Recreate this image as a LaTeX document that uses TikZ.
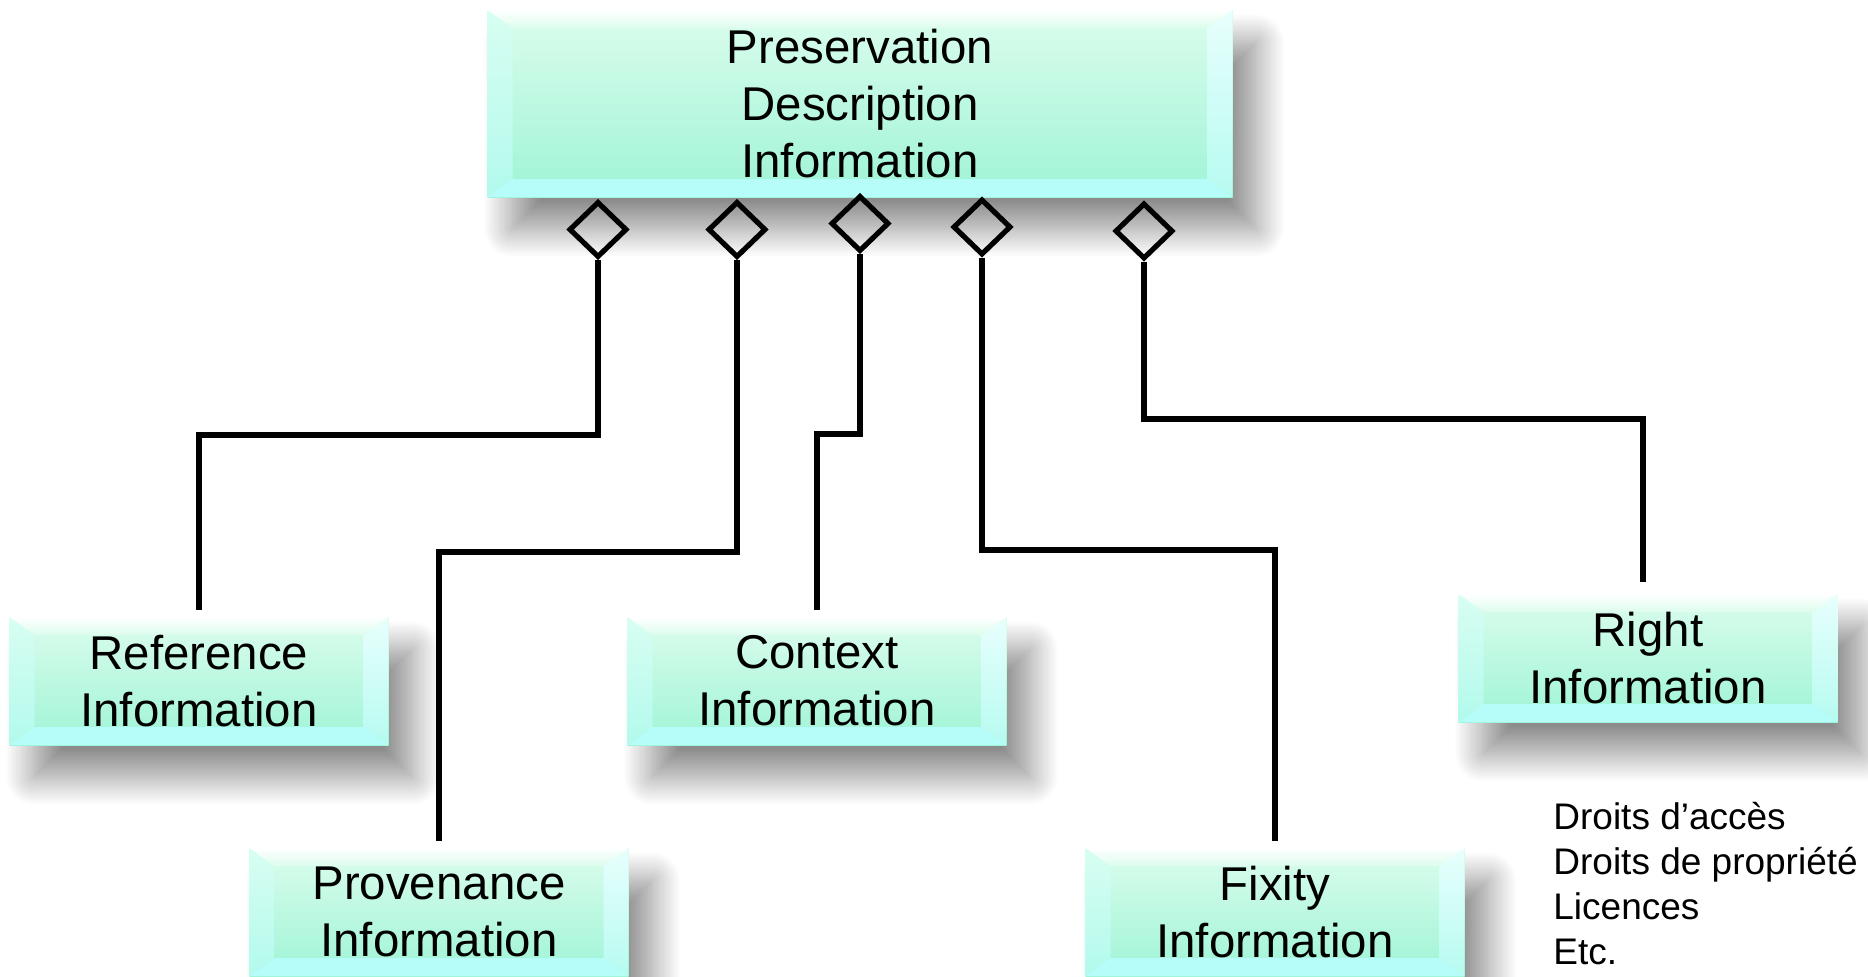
\documentclass[tikz,border=0pt]{standalone}
\usepackage{fontspec}
\setmainfont{Liberation Sans}
\usetikzlibrary{shapes.geometric,shadows.blur}
\definecolor{bxtop}{HTML}{DCFDED}
\definecolor{bxbot}{HTML}{9EF4D6}
\definecolor{bvbot}{HTML}{B6FCF8}
\definecolor{bvltop}{HTML}{D8FEF2}
\definecolor{bvlbot}{HTML}{B2FAEC}
\definecolor{bvrtop}{HTML}{E8FFFD}
\definecolor{bvrbot}{HTML}{B6FBF0}
\newcommand\bvx{12.5pt}
\newcommand\bvy{9pt}
\tikzset{
  bevelbox/.style={
    minimum width=189.5pt, minimum height=64pt, inner sep=0pt, align=center,
    font=\fontsize{23.7pt}{28.5pt}\selectfont,
    top color=bxtop, bottom color=bxbot,
    blur shadow={shadow xshift=12pt, shadow yshift=-16pt, shadow blur radius=14pt, shadow blur steps=24, shadow opacity=45},
    path picture={
      \coordinate (nw) at (path picture bounding box.north west);
      \coordinate (ne) at (path picture bounding box.north east);
      \coordinate (sw) at (path picture bounding box.south west);
      \coordinate (se) at (path picture bounding box.south east);
      \shade[top color=bvltop, bottom color=bvlbot]
        (nw) -- ([xshift=\bvx,yshift=-\bvy]nw) -- ([xshift=\bvx,yshift=\bvy]sw) -- (sw) -- cycle;
      \shade[top color=bvrtop, bottom color=bvrbot]
        (ne) -- ([xshift=-\bvx,yshift=-\bvy]ne) -- ([xshift=-\bvx,yshift=\bvy]se) -- (se) -- cycle;
      \shade[top color=white, bottom color=bxtop]
        (nw) -- (ne) -- ([xshift=-\bvx,yshift=-\bvy]ne) -- ([xshift=\bvx,yshift=-\bvy]nw) -- cycle;
      \fill[bvbot]
        (sw) -- (se) -- ([xshift=-\bvx,yshift=\bvy]se) -- ([xshift=\bvx,yshift=\bvy]sw) -- cycle;
    }
  },
  dia/.style={diamond, draw=black, line width=2.6pt, minimum width=29pt, minimum height=28pt, inner sep=0pt, aspect=1},
  conn/.style={draw=black, line width=2.7pt, shorten >=3.5pt},
  note/.style={font=\fontsize{18.5pt}{22.5pt}\selectfont, align=left, inner sep=0pt}
}
\begin{document}
\begin{tikzpicture}[x=0.5pt, y=-0.5pt]
\useasboundingbox (0,0) rectangle (1868,976);
% boxes
\node[bevelbox, minimum width=372.5pt, minimum height=93.5pt] (pdi) at (860,103.5) {Preservation\\Description\\Information};
\node[bevelbox] (ref) at (199,681) {Reference\\Information};
\node[bevelbox] (ctx) at (817,681) {Context\\Information};
\node[bevelbox] (prov) at (439,912) {Provenance\\Information};
\node[bevelbox] (fix) at (1275,912) {Fixity\\Information};
\node[bevelbox] (right) at (1648,658) {Right\\Information};
% diamonds
\node[dia] (d1) at (598,229.5) {};
\node[dia] (d2) at (737,229.5) {};
\node[dia] (d3) at (860,223.5) {};
\node[dia] (d4) at (982,227) {};
\node[dia] (d5) at (1144,231) {};
% elbows
\coordinate (e1) at (598,435);
\coordinate (e2) at (737,552);
\coordinate (e3) at (860,434);
\coordinate (e4) at (982,550);
\coordinate (e5) at (1144,419);
\draw[conn] (d1.south) -- (e1) -| (ref.north);
\draw[conn] (d2.south) -- (e2) -| (prov.north);
\draw[conn] (d3.south) -- (e3) -| (ctx.north);
\draw[conn] (d4.south) -- (e4) -| (fix.north);
\draw[conn, shorten >=6pt] (d5.south) -- (e5) -| ([xshift=-2.5pt]right.north);
% note
\node[note, anchor=north west] (rights) at (1553,802) {Droits d’accès\\Droits de propriété\\Licences\\Etc.};
\end{tikzpicture}
\end{document}
